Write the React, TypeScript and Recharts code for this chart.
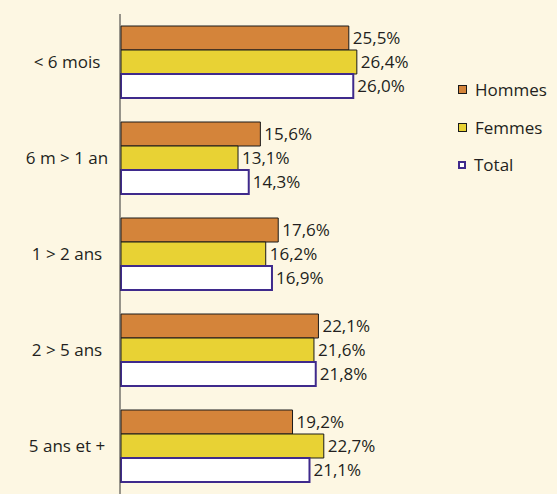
import React from 'react';
import { BarChart, Bar, XAxis, YAxis, LabelList } from 'recharts';

const categories = ['< 6 mois', '6 m > 1 an', '1 > 2 ans', '2 > 5 ans', '5 ans et +'];
const hommes = [25.5, 15.6, 17.6, 22.1, 19.2];
const femmes = [26.4, 13.1, 16.2, 21.6, 22.7];
const total = [26.0, 14.3, 16.9, 21.8, 21.1];
const bandTicks = [0, 1, 2, 3, 4, 5];

const data = categories.map((name, i) => ({
  name,
  hommes: hommes[i],
  femmes: femmes[i],
  total: total[i],
}));

const series = [
  { key: 'hommes', label: 'Hommes', fill: '#D4843A', stroke: '#1a1a1a', width: 1 },
  { key: 'femmes', label: 'Femmes', fill: '#E8D234', stroke: '#1a1a1a', width: 1 },
  { key: 'total', label: 'Total', fill: '#ffffff', stroke: '#3F2A8C', width: 2 },
];

const FONT = '"Open Sans", sans-serif';
const TEXT = '#231f20';

const fmt = (v: any) => `${Number(v).toFixed(1).replace('.', ',')}%`;

const CategoryTick = (props: any) => {
  const { x, y, payload } = props;
  return (
    <text x={x} y={y} dy={6} textAnchor="middle" fontFamily={FONT} fontSize={17} fill={TEXT}>
      {payload.value}
    </text>
  );
};

const LegendBox = () => (
  <div
    style={{
      position: 'absolute',
      left: 458,
      top: 71,
      fontFamily: FONT,
      fontSize: 17,
      color: TEXT,
    }}
  >
    {series.map((s) => (
      <div key={s.key} style={{ display: 'flex', alignItems: 'center', height: 37.5 }}>
        <span
          style={{
            display: 'inline-block',
            boxSizing: 'border-box',
            width: s.key === 'total' ? 8 : 9,
            height: s.key === 'total' ? 8 : 9,
            background: s.fill,
            border: `${s.key === 'total' ? 2.5 : 1.5}px solid ${s.stroke}`,
            marginRight: 8,
          }}
        />
        <span>{s.label}</span>
      </div>
    ))}
  </div>
);

export default function App() {
  return (
    <div style={{ position: 'absolute', left: 0, top: 0, width: 557, height: 494, background: '#FDF7E3' }}>
      <BarChart
        width={557}
        height={494}
        data={data}
        layout="vertical"
        margin={{ top: 14, right: 168, bottom: 0, left: 0 }}
        barCategoryGap={12}
        barGap={0}
      >
        <XAxis type="number" domain={[0, 30]} hide />
        {/* category labels sit in a 1px axis next to the plot */}
        <YAxis
          dataKey="name"
          type="category"
          width={1}
          axisLine={false}
          tickLine={false}
          tickSize={0}
          tickMargin={54}
          tick={CategoryTick}
        />
        {/* axis line with tick marks between the groups */}
        <YAxis
          yAxisId="band"
          type="number"
          domain={[0, 5]}
          ticks={bandTicks}
          tick={false}
          tickSize={4}
          width={120}
          stroke="#333"
        />
        {series.map((s) => (
          <Bar
            key={s.key}
            dataKey={s.key}
            name={s.label}
            fill={s.fill}
            stroke={s.stroke}
            strokeWidth={s.width}
            isAnimationActive={false}
          >
            <LabelList
              dataKey={s.key}
              position="right"
              offset={4}
              formatter={fmt}
              style={{ fontFamily: FONT, fontSize: 17, fill: TEXT }}
            />
          </Bar>
        ))}
      </BarChart>
      <LegendBox />
    </div>
  );
}
